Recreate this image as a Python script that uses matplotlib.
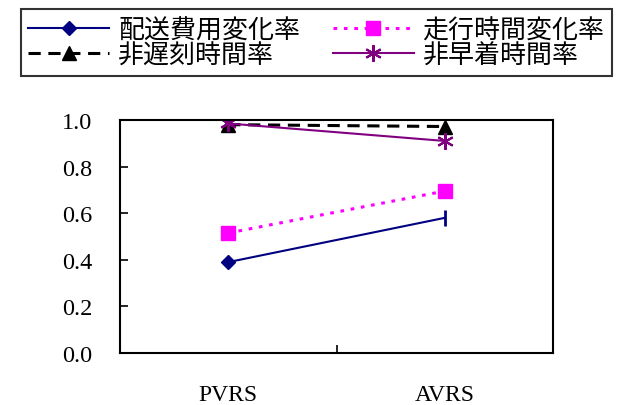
import matplotlib
matplotlib.use("Agg")
import matplotlib.pyplot as plt

# データ
categories = ["PVRS", "AVRS"]
cost_rate = [0.39, 0.58]      # 配送費用変化率
travel_rate = [0.515, 0.695]  # 走行時間変化率
nonlate_rate = [0.98, 0.972]  # 非遅刻時間率
nonearly_rate = [0.985, 0.91] # 非早着時間率

xpos = [0.5, 1.5]

fig = plt.figure(figsize=(6.26, 4.06), dpi=100)
ax = fig.add_axes([0.1917, 0.1281, 0.6917, 0.5739])

h1, = ax.plot(xpos, cost_rate, color="#000080", lw=1.5, marker="D", markersize=7,
              markevery=[0], label="配送費用変化率")
ax.plot(xpos[1:], cost_rate[1:], color="#000080", marker="|", markersize=11,
        mew=2, linestyle="none")
h2, = ax.plot(xpos, travel_rate, color="#FF00FF", lw=2.2, linestyle=(0, (1.2, 2.2)),
              marker="s", markersize=10, label="走行時間変化率")
h3, = ax.plot(xpos, nonlate_rate, color="black", lw=2.2, linestyle=(0, (4, 2.5)),
              marker="^", markersize=10, label="非遅刻時間率")
h4, = ax.plot(xpos, nonearly_rate, color="#800080", lw=1.5, marker=(6, 2, 0),
              markersize=12, mew=1.5, label="非早着時間率")

ax.set_xlim(0, 2)
ax.set_ylim(0, 1.0)
yt = [0, 0.2, 0.4, 0.6, 0.8, 1.0]
ax.set_yticks(yt)
ax.set_yticklabels([f"{v:.1f}" for v in yt], family="Liberation Serif", fontsize=17.5)
ax.set_xticks([1.0])
ax.set_xticklabels([""])
ax.set_xticks(xpos, minor=True)
ax.set_xticklabels(categories, minor=True, family="Liberation Serif", fontsize=17)
ax.tick_params(axis="x", which="minor", length=0, pad=22)
ax.tick_params(axis="x", which="major", direction="in", length=6, width=1.2)
ax.tick_params(axis="y", direction="in", length=6, width=1.2, pad=20)
for s in ax.spines.values():
    s.set_linewidth(1.5)

handles = [h1, h3, h2, h4]
leg = fig.legend(handles, [h.get_label() for h in handles],
                 loc="center", bbox_to_anchor=(316.5 / 626, 1 - 43.5 / 406), ncol=2,
                 prop={"family": "Noto Sans CJK JP", "size": 18.7},
                 frameon=True, fancybox=False, edgecolor="black", handlelength=3.1,
                 handletextpad=0.35, columnspacing=1.27, labelspacing=-0.08,
                 borderpad=0.3, borderaxespad=0)
leg.get_frame().set_linewidth(1.5)

fig.savefig("out.png", dpi=100)
